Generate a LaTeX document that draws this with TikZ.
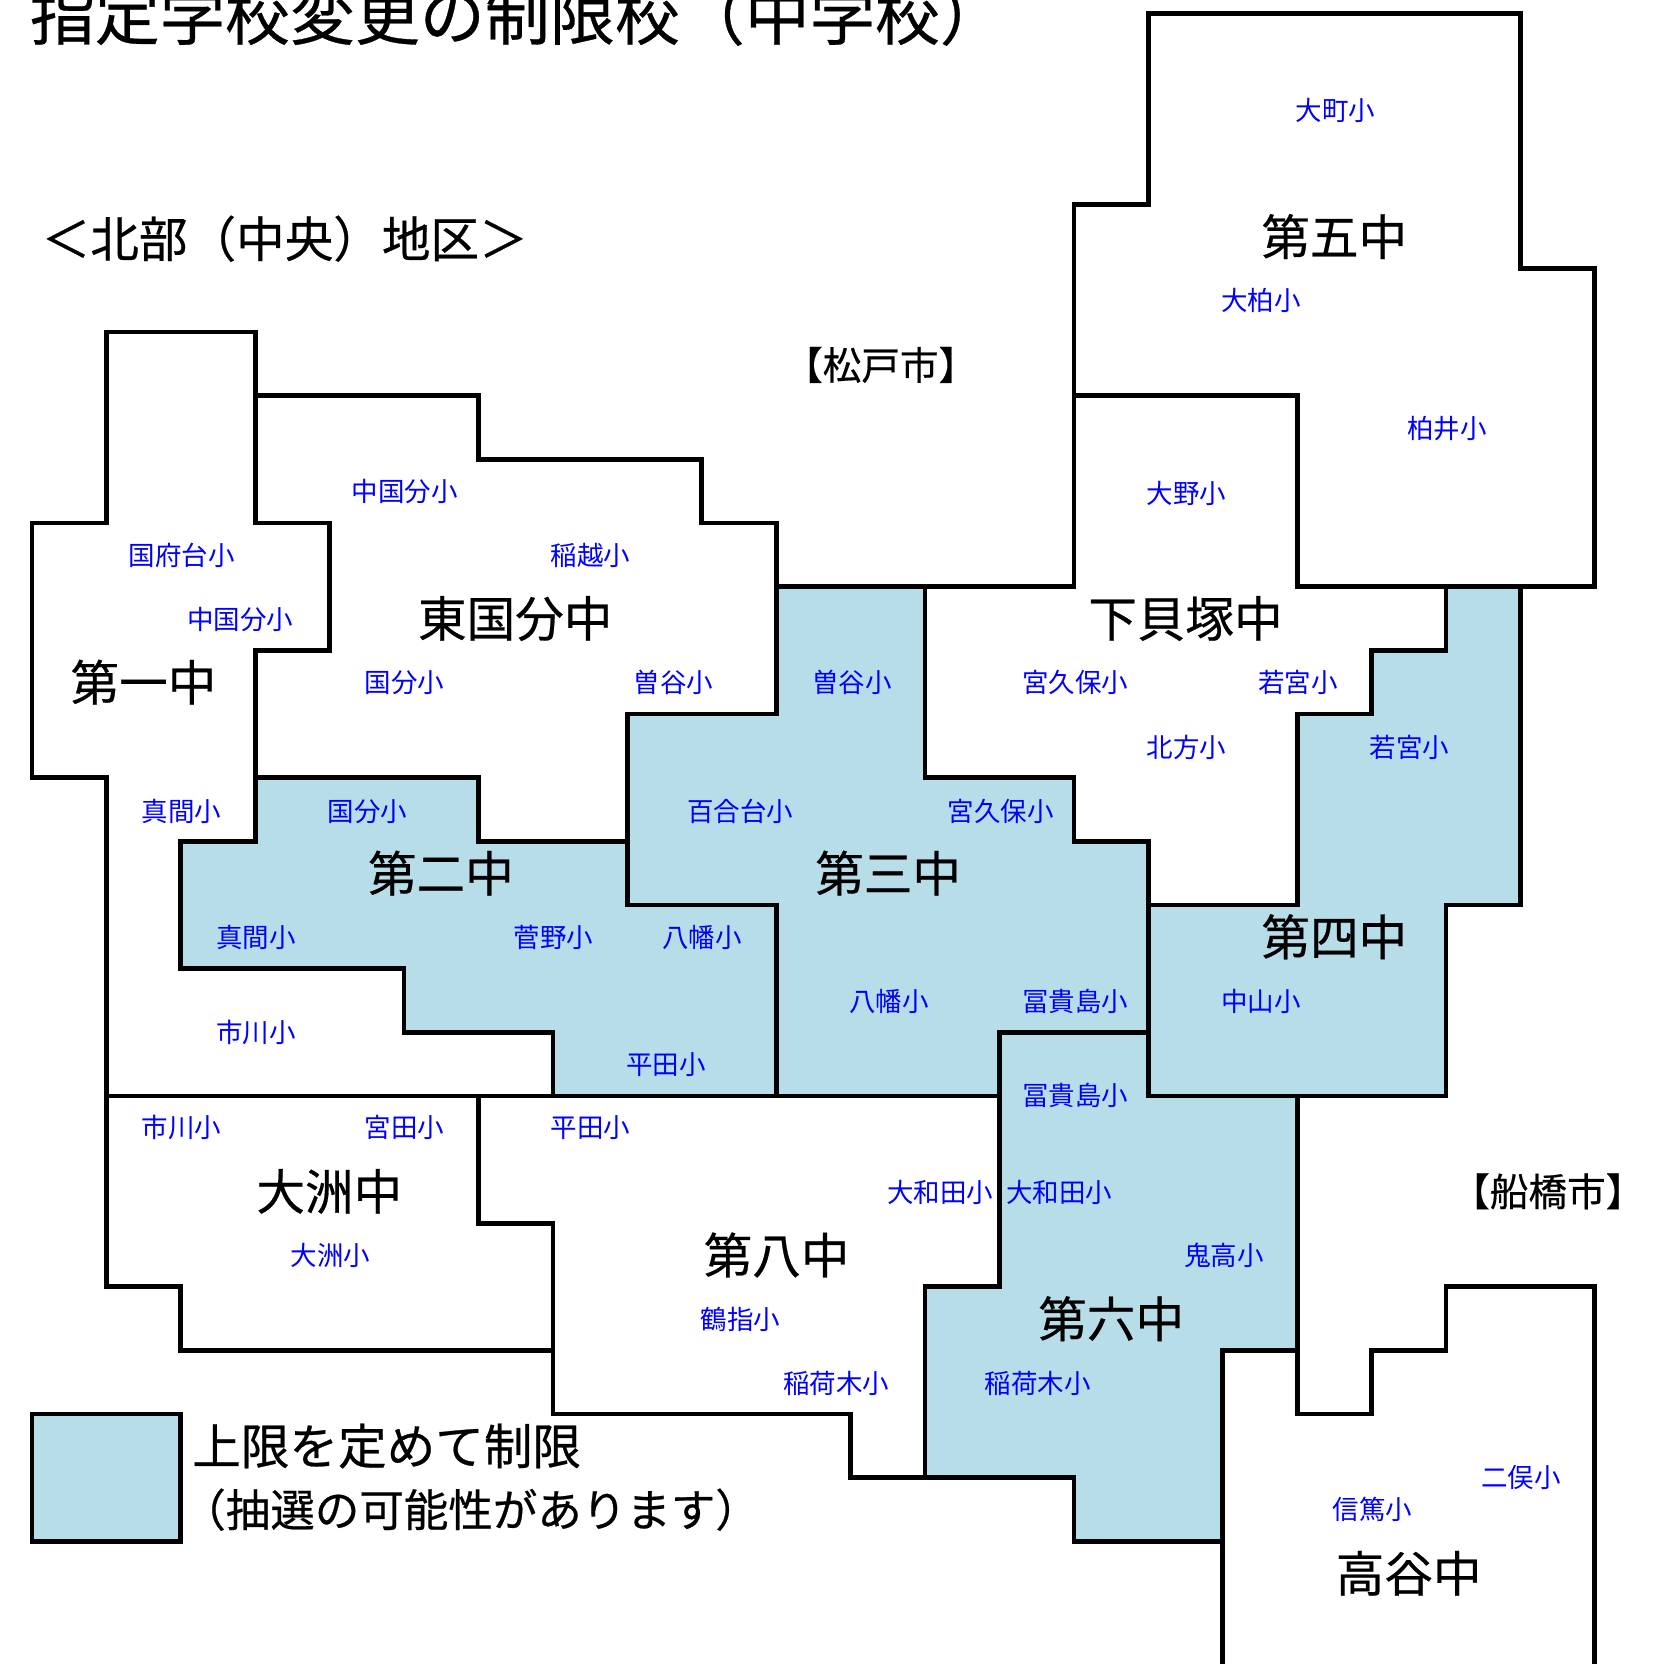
\documentclass[tikz,border=0pt]{standalone}
\usepackage{fontspec}
\setmainfont{Noto Sans CJK JP}
\newfontfamily\heavyfont[FakeBold=0.5]{Noto Sans CJK JP}
\definecolor{zoneblue}{HTML}{B7DDE8}
\newcommand{\fsz}[1]{\fontsize{#1}{#1}\selectfont}
\tikzset{
  zone/.style={draw=black,line width=4.7pt,miter limit=10},
  capzone/.style={zone,fill=zoneblue},
  sho/.style={text=blue,inner sep=0pt,yshift=-0.7pt,font=\fsz{26.5}},
  chu/.style={text=black,inner sep=0pt,font=\heavyfont\fsz{48.6}},
  city/.style={text=black,inner sep=0pt,font=\heavyfont\fsz{38.6}},
  head/.style={text=black,inner sep=0pt,font=\heavyfont\fsz{48.6}},
  ttl/.style={text=black,inner sep=0pt,font=\heavyfont\fsz{65}},
  lgd/.style={text=black,inner sep=0pt,font=\heavyfont\fsz{44.5}}
}
\begin{document}
\begin{tikzpicture}[x=1.0623pt,y=-1.0609pt]
\useasboundingbox (0pt,0pt) rectangle (1655pt,-1664pt);
\clip (0pt,0pt) rectangle (1655pt,-1664pt);
\begin{scope}[shift={(32pt,-13.8pt)},x=74.42pt,y=-63.65pt]
% white districts
\draw[zone] (1,5)--(3,5)--(3,8)--(4,8)--(4,10)--(3,10)--(3,13)--(2,13)--(2,15)--(5,15)--(5,16)--(7,16)--(7,17)--(1,17)--(1,12)--(0,12)--(0,8)--(1,8)--cycle;
\draw[zone] (3,6)--(6,6)--(6,7)--(9,7)--(9,8)--(10,8)--(10,11)--(8,11)--(8,13)--(6,13)--(6,12)--(3,12)--(3,10)--(4,10)--(4,8)--(3,8)--cycle;
\draw[zone] (15,0)--(20,0)--(20,4)--(21,4)--(21,9)--(17,9)--(17,6)--(14,6)--(14,3)--(15,3)--cycle;
\draw[zone] (10,8)--(10,9)--(14,9)--(14,6)--(17,6)--(17,9)--(19,9)--(19,10)--(18,10)--(18,11)--(17,11)--(17,14)--(15,14)--(15,13)--(14,13)--(14,12)--(12,12)--(12,9);
\draw[zone] (1,17)--(6,17)--(6,19)--(7,19)--(7,21)--(2,21)--(2,20)--(1,20)--cycle;
\draw[zone] (6,17)--(13,17)--(13,20)--(12,20)--(12,23)--(11,23)--(11,22)--(7,22)--(7,19)--(6,19)--cycle;
\draw[zone] (16,27)--(16,21)--(17,21)--(17,22)--(18,22)--(18,21)--(19,21)--(19,20)--(21,20)--(21,27);
% capped districts
\draw[capzone] (3,12)--(6,12)--(6,13)--(8,13)--(8,14)--(10,14)--(10,17)--(7,17)--(7,16)--(5,16)--(5,15)--(2,15)--(2,13)--(3,13)--cycle;
\draw[capzone] (10,9)--(12,9)--(12,12)--(14,12)--(14,13)--(15,13)--(15,16)--(13,16)--(13,17)--(10,17)--(10,14)--(8,14)--(8,11)--(10,11)--cycle;
\draw[capzone] (19,9)--(20,9)--(20,14)--(19,14)--(19,17)--(15,17)--(15,14)--(17,14)--(17,11)--(18,11)--(18,10)--(19,10)--cycle;
\draw[capzone] (13,16)--(15,16)--(15,17)--(17,17)--(17,21)--(16,21)--(16,24)--(14,24)--(14,23)--(12,23)--(12,20)--(13,20)--cycle;
% legend swatch
\draw[capzone] (0,22) rectangle (2,24);
\end{scope}
% headings
\node[ttl] (title) at (487,14) {指定学校変更の制限校（中学校）};
\node[head] (area) at (268,225) {＜北部（中央）地区＞};
\node[city] (matsudo) at (829,344) {【松戸市】};
\node[city] (funabashi) at (1457,1123) {【船橋市】};
\node[head] (lgda) at (364,1363) {上限を定めて制限};
\node[lgd] (lgdb) at (443,1423) {（抽選の可能性があります）};
% junior high schools
\node[chu] (c5) at (1256,223) {第五中};
\node[chu] (ck) at (485,583) {東国分中};
\node[chu] (cs) at (1116,583) {下貝塚中};
\node[chu] (c1) at (135,643) {第一中};
\node[chu] (c2) at (415,823) {第二中};
\node[chu] (c3) at (836,823) {第三中};
\node[chu] (c4) at (1256,883) {第四中};
\node[chu] (co) at (310,1123) {大洲中};
\node[chu] (c8) at (731,1183) {第八中};
\node[chu] (c6) at (1046,1243) {第六中};
\node[chu] (ct) at (1326,1483) {高谷中};
% elementary schools
\node[sho] (s01) at (1257,103) {大町小};
\node[sho] (s02) at (1187,283) {大柏小};
\node[sho] (s03) at (1362,403) {柏井小};
\node[sho] (s04) at (1117,464) {大野小};
\node[sho] (s05) at (381,463) {中国分小};
\node[sho] (s06) at (556,523) {稲越小};
\node[sho] (s07) at (171,523) {国府台小};
\node[sho] (s08) at (226,583) {中国分小};
\node[sho] (s09) at (381,643) {国分小};
\node[sho] (s10) at (634,643) {曽谷小};
\node[sho] (s11) at (802,643) {曽谷小};
\node[sho] (s12) at (1012,643) {宮久保小};
\node[sho] (s13) at (1222,643) {若宮小};
\node[sho] (s14) at (1117,704) {北方小};
\node[sho] (s15) at (1327,704) {若宮小};
\node[sho] (s16) at (171,764) {真間小};
\node[sho] (s17) at (346,764) {国分小};
\node[sho] (s18) at (697,764) {百合台小};
\node[sho] (s19) at (942,764) {宮久保小};
\node[sho] (s20) at (241,883) {真間小};
\node[sho] (s21) at (521,883) {菅野小};
\node[sho] (s22) at (661,883) {八幡小};
\node[sho] (s23) at (837,943) {八幡小};
\node[sho] (s24) at (1012,943) {冨貴島小};
\node[sho] (s25) at (1187,943) {中山小};
\node[sho] (s26) at (241,973) {市川小};
\node[sho] (s27) at (627,1003) {平田小};
\node[sho] (s28) at (1012,1032) {冨貴島小};
\node[sho] (s29) at (171,1062) {市川小};
\node[sho] (s30) at (381,1062) {宮田小};
\node[sho] (s31) at (556,1062) {平田小};
\node[sho] (s32) at (885,1123) {大和田小};
\node[sho] (s33) at (997,1123) {大和田小};
\node[sho] (s34) at (311,1183) {大洲小};
\node[sho] (s35) at (1152,1183) {鬼高小};
\node[sho] (s36) at (697,1243) {鶴指小};
\node[sho] (s37) at (787,1303) {稲荷木小};
\node[sho] (s38) at (977,1303) {稲荷木小};
\node[sho] (s39) at (1432,1392) {二俣小};
\node[sho] (s40) at (1292,1422) {信篤小};
\end{tikzpicture}
\end{document}
